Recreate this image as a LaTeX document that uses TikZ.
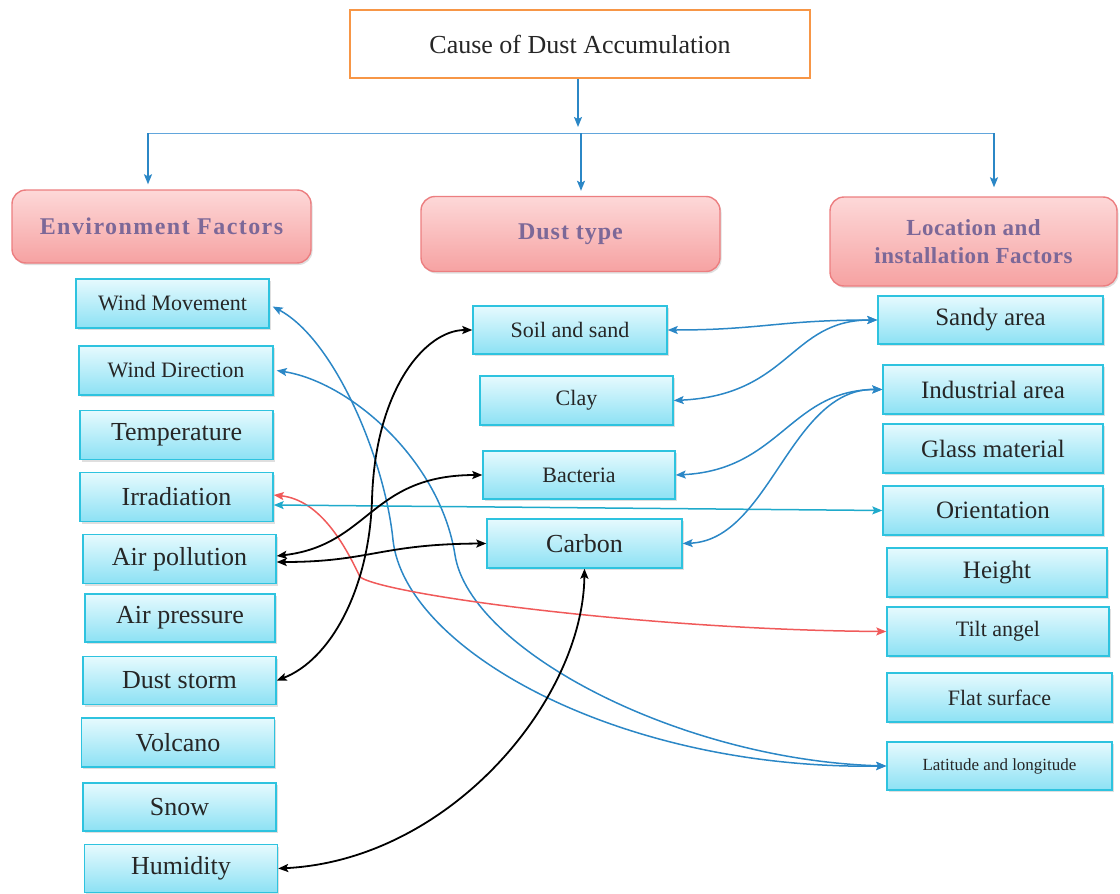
\documentclass[tikz,border=0pt]{standalone}
\usepackage{fontspec}
\setmainfont{Liberation Serif}
\newfontfamily\hdfontA[LetterSpace=6]{Liberation Serif}
\newfontfamily\hdfontB[LetterSpace=4]{Liberation Serif}
\newfontfamily\hdfontC[LetterSpace=2]{Liberation Serif}
\usetikzlibrary{arrows.meta,shadows}
\definecolor{cyanbd}{HTML}{2EC3DF}
\definecolor{cyantop}{HTML}{E6FAFE}
\definecolor{cyanbot}{HTML}{8CE1F4}
\definecolor{pinktop}{HTML}{FDD8D8}
\definecolor{pinkbot}{HTML}{F6A2A2}
\definecolor{pinkbd}{HTML}{EC7E80}
\definecolor{hdtext}{HTML}{7C6898}
\definecolor{orangebd}{HTML}{F79646}
\definecolor{lnblue}{HTML}{2B87C6}
\definecolor{lnlight}{HTML}{62A6DC}
\definecolor{lncyan}{HTML}{1FAACB}
\definecolor{lnred}{HTML}{F05A5A}
\tikzset{
  >={Stealth[length=10pt,width=8pt,inset=2pt]},
  sz/.style 2 args={minimum width=#1pt, minimum height=#2pt},
  cbox/.style={draw=cyanbd, line width=1.4pt, top color=cyantop, bottom color=cyanbot,
    text=black!85, inner sep=0pt,
    drop shadow={shadow xshift=1.5pt, shadow yshift=-2pt, opacity=0.25},
    font=\fontsize{26}{28}\selectfont},
  smallt/.style={font=\fontsize{22}{24}\selectfont},
  midt/.style={font=\fontsize{25}{27}\selectfont},
  hbox/.style={draw=pinkbd, line width=1.4pt, rounded corners=14pt, top color=pinktop,
    bottom color=pinkbot, text=hdtext, align=center, inner sep=0pt,
    drop shadow={shadow xshift=1.5pt, shadow yshift=-2pt, opacity=0.25}},
  tbox/.style={draw=orangebd, line width=2.5pt, fill=white, inner sep=0pt, text=black!85,
    font=\fontsize{26}{28}\selectfont},
  bl/.style={draw=lnblue, line width=1.5pt},
  blk/.style={draw=black, line width=1.8pt},
  rd/.style={draw=lnred, line width=1.5pt},
  cy/.style={draw=lncyan, line width=1.5pt},
}
\begin{document}
\begin{tikzpicture}[x=1pt,y=-1pt]
\useasboundingbox (0,0) rectangle (1120,894);
% title and headers
\node[tbox, sz={460}{68}] (title) at (580,44) {Cause of Dust Accumulation};
\node[hbox, sz={299}{73}, font=\hdfontA\bfseries\fontsize{24}{28}\selectfont] (env) at (161.5,226.5) {Environment Factors};
\node[hbox, sz={299}{75}, font=\hdfontB\bfseries\fontsize{24}{28}\selectfont] (dust) at (570.5,234) {Dust type};
\node[hbox, sz={287}{89}, font=\hdfontC\bfseries\fontsize{23}{28}\selectfont] (loc) at (973.5,241.5) {Location and\\installation Factors};
% left column
\node[cbox, smallt, sz={193}{49}] (wm) at (172.5,303.5) {Wind Movement};
\node[cbox, smallt, sz={194}{49}] (wd) at (176,370.5) {Wind Direction};
\node[cbox, sz={193}{49}] (temp) at (176.5,435) {Temperature};
\node[cbox, sz={193}{49}] (irr) at (176.5,497) {Irradiation};
\node[cbox, sz={193}{49}] (ap) at (179.5,559) {Air pollution};
\node[cbox, sz={190}{48}] (apr) at (180,618) {Air pressure};
\node[cbox, sz={193}{48}] (ds) at (179.5,680.5) {Dust storm};
\node[cbox, sz={193}{49}] (vol) at (178,742.5) {Volcano};
\node[cbox, sz={193}{48}] (snow) at (179.5,807) {Snow};
\node[cbox, sz={193}{48}] (hum) at (181,868.5) {Humidity};
% middle column
\node[cbox, smallt, sz={194}{48}] (soil) at (570,330) {Soil and sand};
\node[cbox, smallt, sz={193}{49}] (clay) at (576.5,400.5) {Clay};
\node[cbox, smallt, sz={192}{48}] (bact) at (579,475) {Bacteria};
\node[cbox, sz={195}{49}] (carb) at (584.5,543.5) {Carbon};
% right column
\node[cbox, midt, sz={225}{48}] (sandy) at (990.5,320) {Sandy area};
\node[cbox, midt, sz={220}{49}] (ind) at (993,389.5) {Industrial area};
\node[cbox, midt, sz={220}{49}] (glass) at (993,448.5) {Glass material};
\node[cbox, midt, sz={220}{49}] (orient) at (993,510.5) {Orientation};
\node[cbox, midt, sz={220}{49}] (height) at (997,572.5) {Height};
\node[cbox, smallt, sz={222}{49}] (tilt) at (998,631.5) {Tilt angel};
\node[cbox, smallt, sz={225}{49}] (flat) at (999.5,697.5) {Flat surface};
\node[cbox, font=\fontsize{17}{19}\selectfont, sz={225}{48}] (lat) at (999.5,766) {Latitude and longitude};
% top tree connectors
\coordinate (tA) at (578,127);
\coordinate (hl) at (148,133);
\coordinate (hm) at (581,133);
\coordinate (hr) at (994,133);
\draw[bl,->] (tA |- title.south) -- (tA);
\draw[draw=lnlight, line width=1pt] (hl) -- (hr);
\draw[bl,->, shorten >=5pt] (hl) -- (hl |- env.north);
\draw[bl,->, shorten >=5pt] (hm) -- (hm |- dust.north);
\draw[bl,->, shorten >=9pt] (hr) -- (hr |- loc.north);
% blue long curves to latitude
\draw[bl,<->] ([xshift=3pt,yshift=-3pt]wm.east) .. controls (335,340) and (385,460) .. (393,540)
   .. controls (405,650) and (620,770) .. (lat.west);
\draw[bl,<->] ([xshift=3pt]wd.east) .. controls (350,382) and (440,460) .. (455,555)
   .. controls (470,650) and (680,760) .. (lat.west);
% red and cyan from irradiation
\draw[rd,<->] ([yshift=2pt]irr.east) .. controls (320,500) and (345,545) .. (360,577)
   .. controls (385,595) and (650,630) .. (tilt.west);
\draw[cy,<->] ([yshift=-8pt]irr.east) -- (orient.west);
% black connectors
\draw[blk,<->] (soil.west) .. controls (425,330) and (375,390) .. (372,500)
   .. controls (369,590) and (330,660) .. (ds.east);
\draw[blk,<->] ([yshift=3pt]ap.east) .. controls (370,545) and (370,475) .. (bact.west);
\draw[blk,<->] ([yshift=-3pt]ap.east) .. controls (370,562) and (380,544) .. (carb.west);
\draw[blk,<->] (carb.south) .. controls (583,700) and (450,860) .. (hum.east);
% blue right connectors
\draw[bl,<->] (soil.east) .. controls (760,330) and (780,320) .. (sandy.west);
\draw[bl,<->] (sandy.west) .. controls (790,320) and (790,395) .. (clay.east);
\draw[bl,<->] (ind.west) .. controls (790,390) and (780,470) .. (bact.east);
\draw[bl,<->] (ind.west) .. controls (790,388) and (770,540) .. (carb.east);
\end{tikzpicture}
\end{document}
